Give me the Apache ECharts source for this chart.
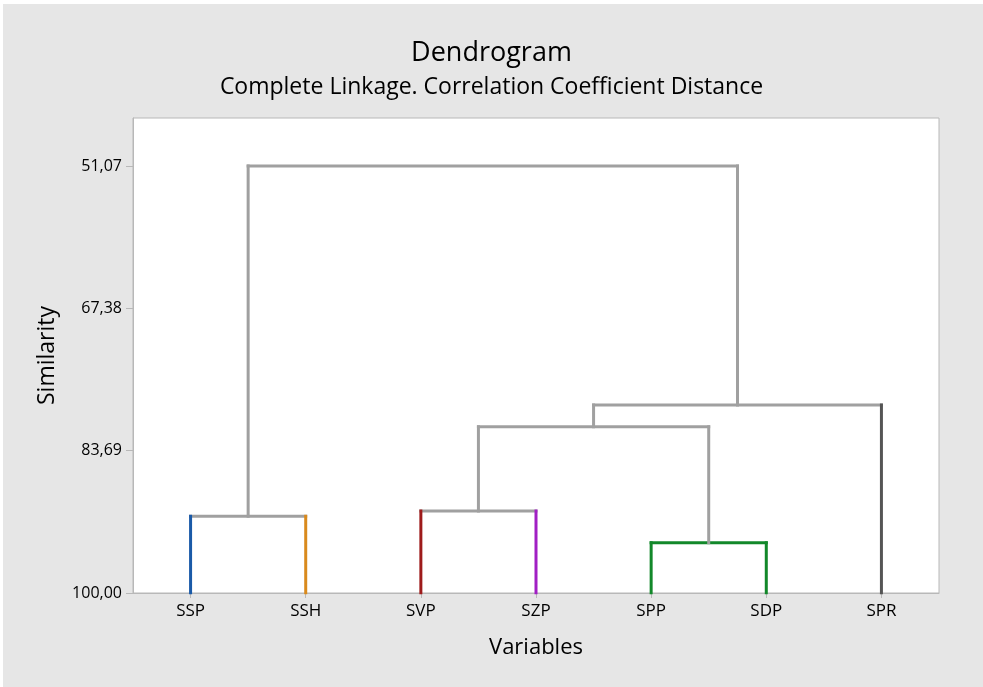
<!DOCTYPE html>
<html>
<head>
<meta charset="utf-8">
<script src="https://cdn.jsdelivr.net/npm/echarts@6/dist/echarts.min.js"></script>
<style>
html, body { margin: 0; padding: 0; background: #fff; }
#chart { width: 983px; height: 687px; }
</style>
</head>
<body>
<div id="chart"></div>
<script>
var chart = echarts.init(document.getElementById('chart'));

// leaves, left to right
var leaves = ['SSP', 'SSH', 'SVP', 'SZP', 'SPP', 'SDP', 'SPR'];
var leafColors = ['#1a5aa8', '#d98a1c', '#9e1b1b', '#a11fc4', '#12882a', '#12882a', '#555555'];

// merges: node ids 0-6 are leaves, merge k creates node 7 + k
var mergeA = [0, 2, 4, 8, 10, 7];
var mergeB = [1, 3, 5, 9, 6, 11];
var mergeHeight = [91.21, 90.60, 94.23, 80.94, 78.46, 51.07];
var mergeColors = ['#a0a0a0', '#a0a0a0', '#12882a', '#a0a0a0', '#a0a0a0', '#a0a0a0'];

var yTicks = [51.07, 67.38, 83.69, 100];
var linkGray = '#a0a0a0';

var nodeX = leaves.map(function (d, i) { return i; });
var nodeH = leaves.map(function () { return 100; });

var series = [];
function seg(x1, y1, x2, y2, color) {
    series.push({
        type: 'line',
        data: [[x1, y1], [x2, y2]],
        showSymbol: false,
        silent: true,
        lineStyle: { color: color, width: 3, cap: 'square' }
    });
}

for (var k = 0; k < mergeA.length; k++) {
    var a = mergeA[k], b = mergeB[k], h = mergeHeight[k];
    var ca = a < leaves.length ? leafColors[a] : linkGray;
    var cb = b < leaves.length ? leafColors[b] : linkGray;
    seg(nodeX[a], h, nodeX[b], h, mergeColors[k]);
    seg(nodeX[a], nodeH[a], nodeX[a], h, ca);
    seg(nodeX[b], nodeH[b], nodeX[b], h, cb);
    nodeX.push((nodeX[a] + nodeX[b]) / 2);
    nodeH.push(h);
}

var font = 'Open Sans';

var option = {
    backgroundColor: '#ffffff',
    animation: false,
    graphic: [{
        type: 'rect',
        z: -10,
        shape: { x: 3, y: 4, width: 980, height: 683 },
        style: { fill: '#e6e6e6' }
    }],
    title: [{
        text: 'Dendrogram',
        left: 'center',
        top: 35,
        textStyle: { fontFamily: font, fontSize: 27, fontWeight: 'normal', color: '#000' }
    }, {
        text: 'Complete Linkage. Correlation Coefficient Distance',
        left: 'center',
        top: 71,
        textStyle: { fontFamily: font, fontSize: 23, fontWeight: 'normal', color: '#000' }
    }],
    grid: {
        left: 133, top: 118, right: 44, bottom: 94,
        show: true, backgroundColor: '#ffffff', borderColor: '#b8b8b8', borderWidth: 1
    },
    xAxis: {
        type: 'value',
        min: -0.5,
        max: 6.5,
        name: 'Variables',
        nameLocation: 'middle',
        nameGap: 44,
        nameTextStyle: { fontFamily: font, fontSize: 22, color: '#000' },
        splitLine: { show: false },
        axisLine: { show: true, onZero: false, lineStyle: { color: '#b8b8b8' } },
        axisTick: { show: true, customValues: [0, 1, 2, 3, 4, 5, 6], length: 5, lineStyle: { color: '#b8b8b8' } },
        axisLabel: {
            customValues: [0, 1, 2, 3, 4, 5, 6],
            formatter: function (v) { return leaves[Math.round(v)]; },
            margin: 10,
            fontFamily: font, fontSize: 17, color: '#000'
        }
    },
    yAxis: {
        type: 'value',
        inverse: true,
        min: 45.57,
        max: 100,
        name: 'Similarity',
        nameLocation: 'middle',
        nameGap: 74,
        nameTextStyle: { fontFamily: font, fontSize: 23, color: '#000' },
        splitLine: { show: false },
        axisLine: { show: true, onZero: false, lineStyle: { color: '#b8b8b8' } },
        axisTick: { show: true, customValues: yTicks, length: 7, lineStyle: { color: '#b8b8b8' } },
        axisLabel: {
            customValues: yTicks,
            formatter: function (v) { return v.toFixed(2).replace('.', ','); },
            margin: 11,
            fontFamily: font, fontSize: 16, color: '#000'
        }
    },
    series: series
};

chart.setOption(option);
</script>
</body>
</html>
